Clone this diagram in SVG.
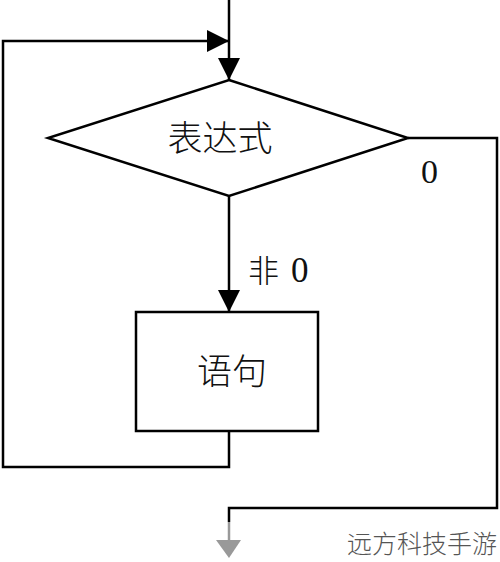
<svg xmlns="http://www.w3.org/2000/svg" width="500" height="562" viewBox="0 0 500 562">
<style>
.ln{fill:none;stroke:#000;stroke-width:2.5}
.nd{fill:#fff;stroke:#000;stroke-width:2.5}
.cj{font-family:"Noto Sans CJK SC","Liberation Serif",serif;font-weight:300;fill:#111}
.dg{font-family:"Liberation Serif",serif;fill:#111}
</style>
<defs>
<marker id="ah" markerUnits="userSpaceOnUse" markerWidth="24" markerHeight="24" refX="22" refY="12" orient="auto" viewBox="0 0 24 24">
<path d="M0,1 L22,12 L0,23 Z" fill="#000"/>
</marker>
</defs>
<rect width="500" height="562" fill="#fff"/>
<g id="connectors">
<path class="ln" d="M229,0 V80" marker-end="url(#ah)"/>
<path class="ln" d="M229,431 V467 H3 V41 H229" marker-end="url(#ah)"/>
<path class="ln" d="M229,196 V312" marker-end="url(#ah)"/>
<path class="ln" d="M408,138 H497 V508 H229 V522"/>
<path d="M229,522 V540" stroke="#999" stroke-width="2.5" fill="none"/>
<path d="M216,540 L241,540 L229,558 Z" fill="#999"/>
<text class="cj" x="248" y="282" font-size="31">非</text>
<text class="dg" x="291" y="282" font-size="35">0</text>
<text class="dg" x="421" y="183" font-size="34">0</text>
</g>
<g id="cond">
<polygon class="nd" points="229,80 408,138 229,196 48,138"/>
<text class="cj" x="220" y="151" font-size="35" text-anchor="middle">表达式</text>
</g>
<g id="stmt">
<rect class="nd" x="136" y="312" width="182" height="119"/>
<text class="cj" x="232" y="384" font-size="35" text-anchor="middle">语句</text>
</g>
<text x="422" y="553" font-family="Noto Sans CJK SC,sans-serif" font-size="25" font-weight="300" fill="#555" text-anchor="middle">远方科技手游</text>
</svg>
